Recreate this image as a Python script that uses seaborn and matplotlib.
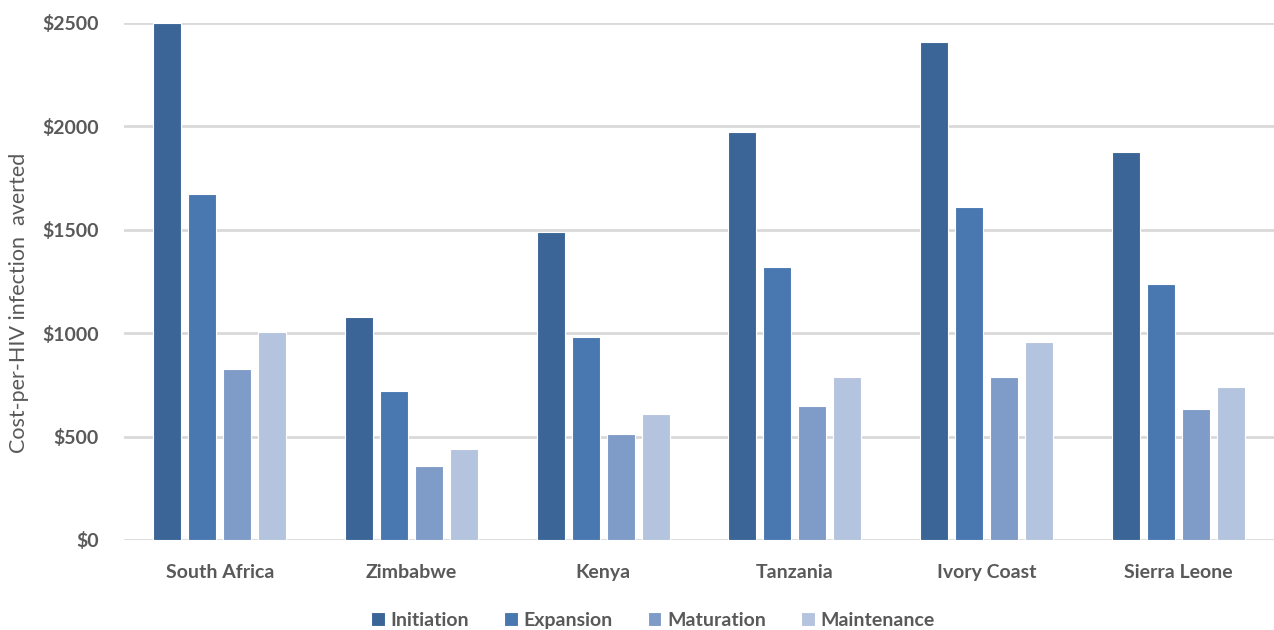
import pandas as pd
import matplotlib.pyplot as plt
import seaborn as sns

# Data
countries = ['South Africa', 'Zimbabwe', 'Kenya', 'Tanzania', 'Ivory Coast', 'Sierra Leone']
phases = ['Initiation', 'Expansion', 'Maturation', 'Maintenance']
initiation = [2500, 1080, 1490, 1972, 2408, 1877]
expansion = [1672, 718, 982, 1320, 1611, 1236]
maturation = [825, 356, 511, 646, 789, 632]
maintenance = [1007, 440, 608, 789, 959, 740]
yticks = [0, 500, 1000, 1500, 2000, 2500]
colors = ['#3B6596', '#4977B0', '#7F9BC7', '#B4C3DE']

df = pd.DataFrame({
    'country': countries * 4,
    'phase': [p for p in phases for _ in countries],
    'cost': initiation + expansion + maturation + maintenance,
})

sns.set_style('white')
plt.rcParams['font.family'] = ['Lato', 'DejaVu Sans']
grey = '#595959'

fig = plt.figure(figsize=(12.74, 6.3), dpi=100)
ax = fig.add_axes([0.0973, 0.1429, 0.9027, 0.8206])

sns.barplot(data=df, x='country', y='cost', hue='phase', hue_order=phases,
            palette=colors, saturation=1, width=0.73, gap=0.2,
            edgecolor='white', linewidth=0.8, ax=ax, errorbar=None, zorder=3)

ax.set_ylim(0, 2500)
ax.set_xlim(-0.5, len(countries) - 0.5)
ax.set_yticks(yticks)
ax.set_yticklabels([f'${t}' for t in yticks])
ax.yaxis.grid(True, color='#D9D9D9', linewidth=2, zorder=0)
ax.set_axisbelow(True)
for s in ax.spines.values():
    s.set_visible(False)

ax.tick_params(axis='both', length=0, labelsize=14, labelcolor=grey)
ax.tick_params(axis='y', pad=18)
ax.tick_params(axis='x', pad=17)
for lbl in ax.get_xticklabels() + ax.get_yticklabels():
    lbl.set_fontweight('bold')

ax.set_xlabel('')
ax.set_ylabel('Cost-per-HIV infection  averted', fontsize=15.5, color=grey)
ax.yaxis.set_label_coords(-0.083, 0.458)

leg = ax.legend(loc='upper center', bbox_to_anchor=(0.46, -0.105), ncol=4,
                frameon=False, handlelength=0.7, handleheight=0.7,
                handletextpad=0.3, columnspacing=1.8, fontsize=14)
for t in leg.get_texts():
    t.set_color(grey)
    t.set_fontweight('bold')

fig.savefig('out.png', dpi=100)
